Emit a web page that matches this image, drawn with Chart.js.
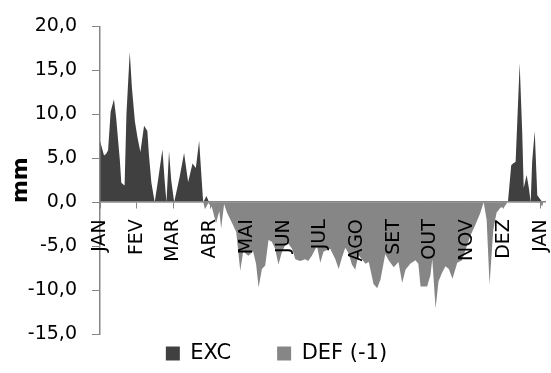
<!DOCTYPE html>
<html><head><meta charset="utf-8">
<script src="https://cdn.jsdelivr.net/npm/chart.js@4"></script>
<style>html,body{margin:0;padding:0;background:#fff}#wrap{width:551px;height:373px}</style>
</head><body><div id="wrap"><canvas id="c" width="551" height="373"></canvas></div>
<script>
// Month labels (x ticks, positioned at month index 0..12)
const monthLabels = ['JAN','FEV','MAR','ABR','MAI','JUN','JUL','AGO','SET','OUT','NOV','DEZ','JAN'];
// EXC series: x in months from start of year, y in mm
const excX = [0,0.11,0.17,0.22,0.29,0.38,0.44,0.54,0.58,0.67,0.72,0.81,0.87,0.95,1.02,1.10,1.20,1.29,1.33,1.40,1.49,1.58,1.70,1.76,1.81,1.88,1.94,2.02,2.17,2.29,2.40,2.52,2.61,2.70,2.81,2.90,2.97,11.11,11.20,11.25,11.32,11.43,11.50,11.54,11.62,11.68,11.73,11.77,11.84,11.91,11.98,12.05];
const excY = [7.0,5.3,5.5,5.9,10.3,11.7,9.6,4.8,2.2,1.9,10.0,17.1,13.0,9.2,7.4,5.7,8.7,8.1,5.5,2.2,0,2.5,6.0,2.5,0,5.8,2.5,0,2.9,5.6,2.3,4.4,3.9,7.0,0,0.7,0,0,4.2,4.4,4.6,15.8,7.9,1.6,3.1,1.6,0,4.6,8.1,0.8,0.4,0];
// DEF (-1) series
const defX = [2.81,2.86,2.95,3.05,3.16,3.25,3.30,3.38,3.46,3.59,3.71,3.82,3.90,4.04,4.17,4.25,4.32,4.41,4.50,4.59,4.68,4.77,4.86,4.96,5.09,5.23,5.32,5.45,5.59,5.67,5.77,5.91,6.00,6.09,6.27,6.41,6.50,6.59,6.68,6.77,6.86,6.95,7.04,7.23,7.32,7.45,7.55,7.64,7.77,7.86,8.00,8.13,8.23,8.32,8.45,8.59,8.67,8.73,8.91,9.00,9.05,9.14,9.22,9.32,9.41,9.50,9.60,9.73,9.86,9.95,10.09,10.23,10.36,10.45,10.53,10.61,10.71,10.80,10.91,11.00,11.10,11.97,12.04,12.08];
const defY = [0,-0.8,-0.1,-0.6,-2.4,-1.0,-3.0,-0.2,-1.2,-2.3,-3.4,-7.8,-5.6,-6.1,-5.6,-7.0,-9.7,-7.6,-7.2,-4.3,-4.5,-5.3,-7.1,-5.6,-4.5,-5.3,-6.5,-6.7,-6.5,-6.7,-6.1,-5.0,-6.9,-5.6,-5.3,-6.5,-7.6,-6.3,-5.2,-5.8,-7.1,-7.7,-6.0,-7.0,-6.8,-9.3,-9.8,-8.8,-5.9,-6.6,-7.4,-6.8,-9.2,-7.7,-7.0,-6.6,-7.0,-9.6,-9.6,-8.3,-6.5,-12.1,-9.0,-8.0,-7.3,-7.6,-8.7,-6.9,-6.6,-5.5,-3.8,-2.5,-1.2,0,-2.0,-9.4,-3.2,-1.2,-0.6,-0.6,0,0,-0.5,0];
const yMin = -15, yMax = 20, yStep = 5;

const FONT = '"DejaVu Sans", Verdana, sans-serif';
const AXIS = '#868686';
const EXC_COLOR = '#404040';
const DEF_COLOR = '#868686';

const toXY = (xs, ys) => xs.map((x, i) => ({x, y: ys[i]}));

const LEGEND_PAD = 46;
const legendLayout = {
  id: 'legendLayout',
  afterInit(chart) {
    const lg = chart.legend;
    const orig = lg.fit;
    lg.fit = function () { orig.call(this); this.height = 39; };
  },
  afterLayout(chart) {
    const lg = chart.legend;
    lg.top = 353 - LEGEND_PAD - 10;
    lg.bottom = 373;
    lg.left += 4;
    lg.right += 4;
  }
};

new Chart(document.getElementById('c'), {
  type: 'line',
  data: {
    datasets: [
      { label: 'EXC', data: toXY(excX, excY), backgroundColor: EXC_COLOR, borderColor: EXC_COLOR,
        borderWidth: 0, pointRadius: 0, fill: 'origin', tension: 0 },
      { label: 'DEF (-1)', data: toXY(defX, defY), backgroundColor: DEF_COLOR, borderColor: DEF_COLOR,
        borderWidth: 0, pointRadius: 0, fill: 'origin', tension: 0 }
    ]
  },
  options: {
    responsive: false,
    animation: false,
    devicePixelRatio: 1,
    layout: { padding: { top: 20, right: 6, left: 0, bottom: 0 } },
    plugins: {
      legend: {
        position: 'bottom',
        labels: { color: '#000', font: { family: FONT, size: 21 }, boxWidth: 14, boxHeight: 14, padding: LEGEND_PAD }
      },
      tooltip: { enabled: false }
    },
    scales: {
      x: {
        type: 'linear',
        position: { y: 0 },
        min: 0, max: 12.12,
        afterBuildTicks(scale) { scale.ticks = monthLabels.map((_, i) => ({ value: i })); },
        afterFit(scale) { scale.paddingLeft = 0; scale.paddingRight = 0; },
        ticks: {
          z: 2, autoSkip: false, minRotation: 90, maxRotation: 90, padding: 11, color: '#000',
          font: { family: FONT, size: 19 },
          callback: (v, i) => monthLabels[i]
        },
        grid: { z: 1, display: true, drawOnChartArea: false, drawTicks: true, tickLength: 6, color: AXIS, lineWidth: 1 },
        border: { z: 1, display: true, color: AXIS, width: 1.5 }
      },
      y: {
        min: yMin, max: yMax,
        afterFit(scale) { scale.width = 100; },
        ticks: { stepSize: yStep, padding: 15, color: '#000', font: { family: FONT, size: 19 },
          callback: v => v.toFixed(1).replace('.', ',') },
        grid: { display: true, drawOnChartArea: false, drawTicks: true, tickLength: 8, color: AXIS, lineWidth: 1 },
        border: { z: 1, display: true, color: AXIS, width: 1.5 },
        title: { display: true, text: 'mm', color: '#000', font: { family: FONT, size: 22, weight: 'bold' }, padding: { top: 8, bottom: 0 } }
      }
    }
  },
  plugins: [legendLayout]
});
</script>
</body></html>
